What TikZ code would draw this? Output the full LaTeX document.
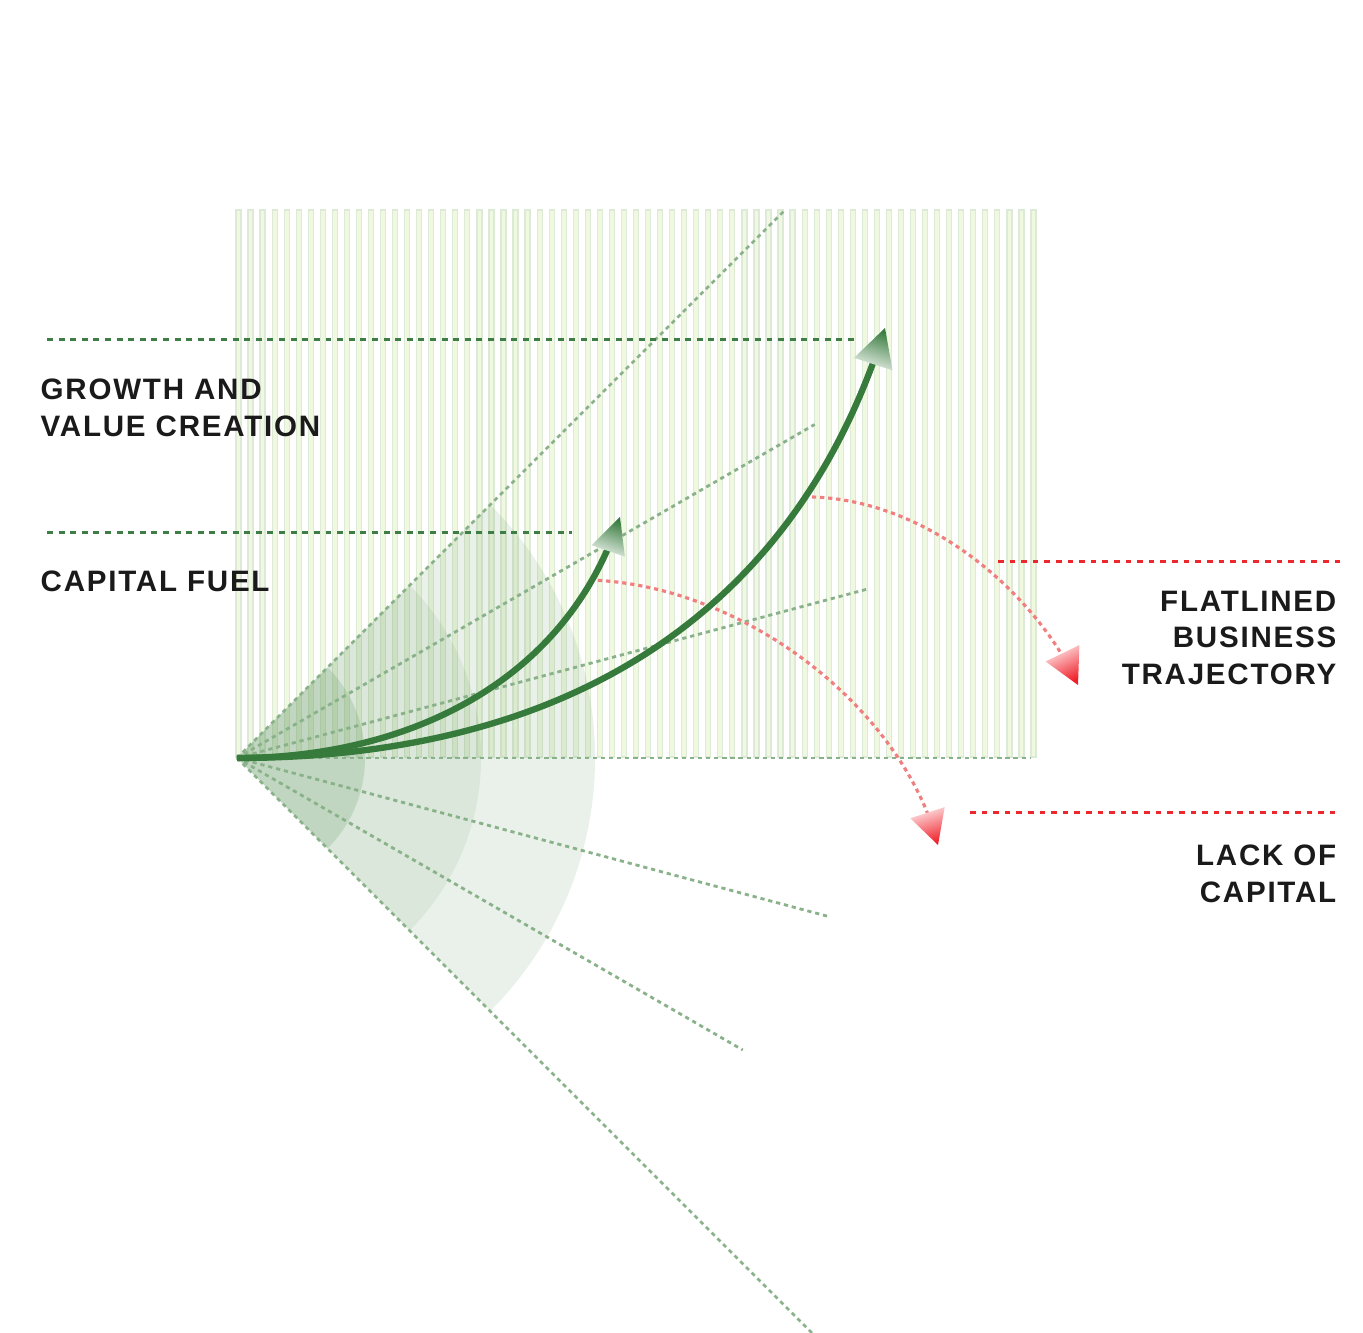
\documentclass[tikz,border=0pt]{standalone}
\usepackage{fontspec}
\usepackage{tikz}
\usetikzlibrary{calc}
\newfontfamily\labelfont[LetterSpace=6]{Liberation Sans}
\definecolor{growgreen}{RGB}{54,122,60}
\definecolor{guidegreen}{RGB}{62,125,70}
\definecolor{fangreen}{RGB}{138,178,138}
\definecolor{sectorgreen}{RGB}{80,140,80}
\definecolor{stripefill}{RGB}{240,248,224}
\definecolor{stripeline}{RGB}{222,234,216}
\definecolor{fadered}{RGB}{240,128,128}
\definecolor{guidered}{RGB}{236,40,45}
\definecolor{tipred}{RGB}{240,30,40}
\definecolor{textblack}{RGB}{26,26,26}

\begin{document}
\begin{tikzpicture}[x=0.01cm, y=0.01cm,
    stripe/.style={fill=stripefill, draw=stripeline, line width=0.35pt},
    sector/.style={fill=sectorgreen, draw=none},
    fanline/.style={fangreen, line width=0.8pt, dash pattern=on 1.2pt off 1.1pt},
    guide/.style={guidegreen, line width=0.85pt, dash pattern=on 1.7pt off 1.6pt},
    redguide/.style={guidered, line width=0.85pt, dash pattern=on 1.6pt off 1.7pt},
    growth/.style={growgreen, line width=1.8pt, shorten >=0.08cm},
    decline/.style={fadered, line width=0.9pt, dash pattern=on 1.2pt off 1.1pt},
    lbl/.style={font=\labelfont\bfseries\fontsize{8.4pt}{10.5pt}\selectfont, text=textblack, inner sep=0pt}
]
\useasboundingbox (0,0) rectangle (1363,1333);

% striped backdrop
\foreach \i in {0,...,66}
    \draw[stripe] ({236+12.045*\i},576) rectangle ++(5,547);

% origin and fan
\coordinate (o) at (237,575);
\fill[sector, fill opacity=0.12] (o) -- ++(-45:358) arc[start angle=-45, end angle=45, radius=3.58cm] -- cycle;
\fill[sector, fill opacity=0.10] (o) -- ++(-45:244) arc[start angle=-45, end angle=45, radius=2.44cm] -- cycle;
\fill[sector, fill opacity=0.18] (o) -- ++(-45:128) arc[start angle=-45, end angle=45, radius=1.28cm] -- cycle;
\foreach \a/\r [count=\k] in {45/775, 30/667, 15/653, 0/793, -15/611, -30/584, -45/815} {
    \coordinate (f\k) at ($(o)+(\a:\r)$);
    \draw[fanline] (o) -- (f\k);
}

% guide lines
\coordinate (gA) at (47,993);  \coordinate (gB) at (855,993);
\coordinate (gC) at (47,800);  \coordinate (gD) at (572,800);
\coordinate (gE) at (998,771); \coordinate (gF) at (1340,771);
\coordinate (gG) at (970,520); \coordinate (gH) at (1340,520);
\draw[guide] (gA) -- (gB);
\draw[guide] (gC) -- (gD);
\draw[redguide] (gE) -- (gF);
\draw[redguide] (gG) -- (gH);

% declining paths
\coordinate (r1s) at (812,836); \coordinate (r1e) at (1068,668); \coordinate (t3) at (1078,648);
\coordinate (r2s) at (590,753); \coordinate (r2e) at (933,505);  \coordinate (t4) at (938,488);
\draw[decline] (r1s) .. controls (920,833) and (1020,753) .. (r1e);
\draw[decline] (r2s) .. controls (740,748) and (890,633) .. (r2e);
\shade[top color=tipred, bottom color=tipred!12, shading angle=-154]
    (t3) -- ($(t3)+(-64+208:40)$) -- ($(t3)+(-64+152:40)$) -- cycle;
\shade[top color=tipred, bottom color=tipred!12, shading angle=-162]
    (t4) -- ($(t4)+(-72+208:38.5)$) -- ($(t4)+(-72+152:38.5)$) -- cycle;

% growth paths
\coordinate (t1) at (620,816);
\coordinate (t2) at (885,1005);
\draw[growth] (o) .. controls (400,575) and (560,645) .. (t1);
\draw[growth] (o) .. controls (580,575) and (795,729) .. (t2);
\shade[top color=growgreen, middle color=growgreen!75, bottom color=growgreen!12, shading angle=-19]
    (t1) -- ($(t1)+(71+206:40)$) -- ($(t1)+(71+154:40)$) -- cycle;
\shade[top color=growgreen, middle color=growgreen!75, bottom color=growgreen!12, shading angle=-18]
    (t2) -- ($(t2)+(72+208:43)$) -- ($(t2)+(72+152:43)$) -- cycle;

% labels
\node[lbl, anchor=north west, align=left] (growlbl) at (40,955) {GROWTH AND\\VALUE CREATION};
\node[lbl, anchor=north west] (fuellbl) at (40,763) {CAPITAL FUEL};
\node[lbl, anchor=north east, align=right] (flatlbl) at (1337,743) {FLATLINED\\BUSINESS\\TRAJECTORY};
\node[lbl, anchor=north east, align=right] (lacklbl) at (1337,489) {LACK OF\\CAPITAL};
\end{tikzpicture}
\end{document}
